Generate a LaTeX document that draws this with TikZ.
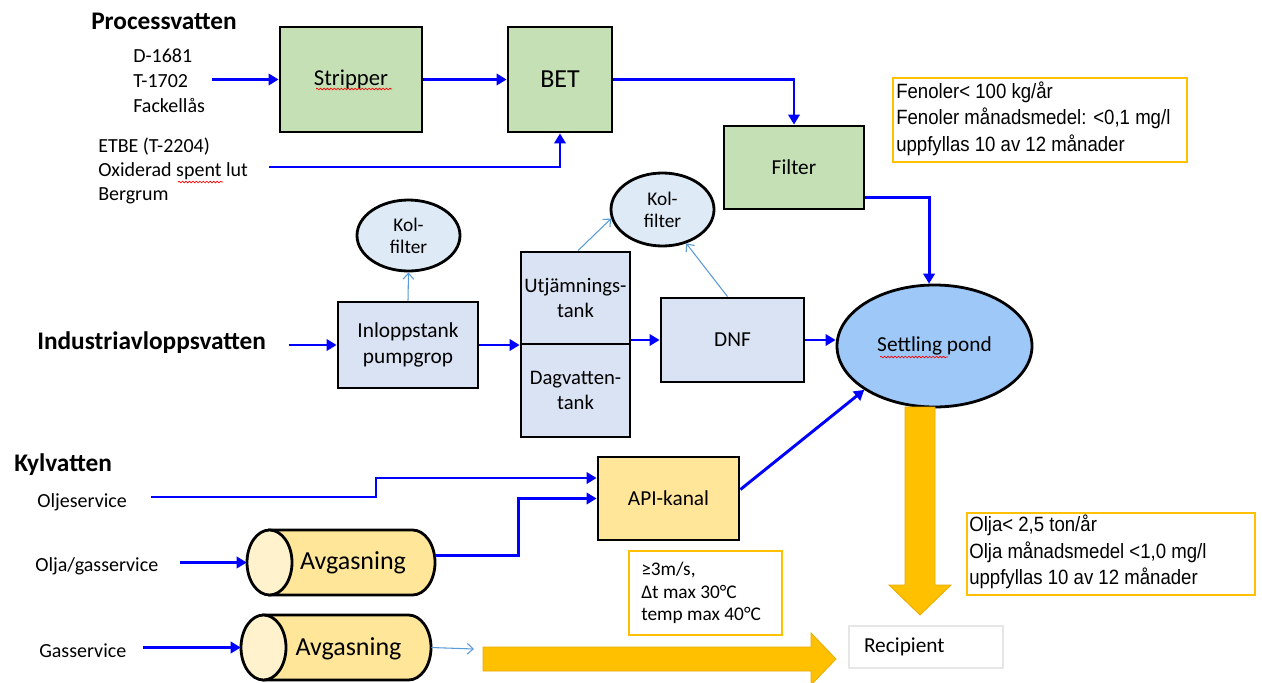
\documentclass[tikz,border=0pt]{standalone}
\usepackage{fontspec}
\setmainfont{Carlito}
\newfontfamily\arialn[FakeStretch=0.9]{Liberation Sans}
\usetikzlibrary{arrows.meta,calc,shapes.geometric,decorations.pathmorphing}

\definecolor{boxgreen}{RGB}{197,224,180}
\definecolor{boxblue}{RGB}{218,227,243}
\definecolor{kolblue}{RGB}{222,235,247}
\definecolor{pondblue}{RGB}{157,200,248}
\definecolor{boxyellow}{RGB}{255,230,153}
\definecolor{capyellow}{RGB}{255,242,204}
\definecolor{gold}{RGB}{255,192,0}
\definecolor{goldedge}{RGB}{232,172,0}
\definecolor{flowblue}{RGB}{0,0,255}
\definecolor{ventblue}{RGB}{91,155,213}
\definecolor{paleframe}{RGB}{231,230,230}

\begin{document}
\begin{tikzpicture}[x=0.75pt,y=-0.75pt,
  wh/.style 2 args={minimum width=#1*0.75pt, minimum height=#2*0.75pt},
  procbox/.style={draw=black, line width=2.1pt, inner sep=0pt, align=center,
    font=\fontsize{16}{20}\selectfont},
  greenbox/.style={procbox, fill=boxgreen},
  bluebox/.style={procbox, fill=boxblue},
  yellowbox/.style={procbox, fill=boxyellow},
  kol/.style={ellipse, draw=black, line width=2.1pt, fill=kolblue, inner sep=0pt,
    align=center, font=\fontsize{14.5}{16.5}\selectfont},
  heading/.style={anchor=west, inner sep=0pt, font=\bfseries\fontsize{19}{22}\selectfont},
  lab/.style={anchor=west, inner sep=0pt, align=left, font=\fontsize{15}{18.75}\selectfont},
  note/.style={draw=gold, line width=1.2pt, fill=white, inner sep=0pt},
  notetext/.style={anchor=west, inner sep=0pt, align=left,
    font=\arialn\fontsize{15.5}{20}\selectfont},
  flow/.style={draw=flowblue, line width=2.2pt, -{Triangle[length=7.5pt,width=8.5pt]}},
  vent/.style={draw=ventblue, line width=0.8pt, -{Straight Barb[length=4.5pt,width=8pt]}},
  drumbody/.style={draw=black, line width=2.1pt, fill=boxyellow},
  drumcap/.style={draw=black, line width=2.1pt, fill=capyellow},
  drumtext/.style={inner sep=0pt, font=\fontsize{19.5}{22}\selectfont},
  bigarrow/.style={fill=gold, draw=goldedge, line width=0.6pt},
  spell/.style={draw=red, line width=0.5pt,
    decorate, decoration={snake, amplitude=0.6pt, segment length=2.6pt}}
]
\useasboundingbox (0,0) rectangle (1262,682);
\fill[white] (0,0) rectangle (1262,682);

% ---------- Processvatten ----------
\node[heading] (hproc) at (91,21) {Processvatten};
\node[lab] (src1) at (133,81) {D-1681\\T-1702\\Fackellås};
\node[lab, font=\fontsize{15}{18}\selectfont] (src2) at (98,171)
  {ETBE (T-2204)\\Oxiderad spent lut\\Bergrum};

\node[greenbox, wh={142}{105}, font=\fontsize{17}{20}\selectfont] (stripper) at (351,79.5) {Stripper};
\node[greenbox, wh={104}{105}, font=\fontsize{19.5}{22}\selectfont] (bet) at (560,79.5) {BET};
\node[greenbox, wh={140}{83}] (filter) at (794,167.5) {Filter};

\node[note, wh={294}{84}] (fenbox) at (1040,120) {};
\node[notetext] (fentext) at (896,118.5)
  {Fenoler< 100 kg/år\\Fenoler månadsmedel: <0,1 mg/l\\uppfyllas 10 av 12 månader};

% ---------- Industriavloppsvatten ----------
\node[heading] (hind) at (37,343) {Industriavloppsvatten};
\node[kol, wh={103}{71}] (kol1) at (408.5,235.5) {Kol-\\filter};
\node[kol, wh={103}{73}] (kol2) at (662.5,209.5) {Kol-\\filter};
\node[bluebox, wh={140}{86}] (inlopp) at (408,345) {Inloppstank\\pumpgrop};
\node[bluebox, wh={109}{92}, font=\fontsize{15.5}{18.75}\selectfont] (utj) at (575.5,298) {Utjämnings-\\tank};
\node[bluebox, wh={109}{93}, font=\fontsize{15.5}{18.75}\selectfont] (dag) at (575.5,390.5) {Dagvatten-\\tank};
\node[bluebox, wh={143}{84}] (dnf) at (732.5,340) {DNF};
\node[ellipse, draw=black, line width=2.1pt, fill=pondblue, inner sep=0pt,
  wh={195}{122}, font=\fontsize{16}{20}\selectfont] (pond) at (934.5,346) {Settling pond};

% ---------- Kylvatten ----------
\node[heading] (hkyl) at (14,465) {Kylvatten};
\node[lab] (oil) at (37,502) {Oljeservice};
\node[lab] (oilgas) at (35,566) {Olja/gasservice};
\node[lab] (gas) at (39,651) {Gasservice};
\node[yellowbox, wh={141}{83}] (api) at (668.5,498.5) {API-kanal};

% degassing drums
\filldraw[drumbody] (269.5,530) -- (412.5,530)
  arc[start angle=-90, end angle=90, x radius=22.5, y radius=32.5] -- (269.5,595) -- cycle;
\filldraw[drumcap] (269.5,562.5) ellipse[x radius=22.5, y radius=32.5];
\node[inner sep=0pt, wh={188}{65}] (cyl1) at (341,562.5) {};
\node[drumtext] (cyl1text) at (353,563) {Avgasning};

\filldraw[drumbody] (263.5,615) -- (408.5,615)
  arc[start angle=-90, end angle=90, x radius=22.5, y radius=32.5] -- (263.5,680) -- cycle;
\filldraw[drumcap] (263.5,647.5) ellipse[x radius=22.5, y radius=32.5];
\node[inner sep=0pt, wh={190}{65}] (cyl2) at (336,647.5) {};
\node[drumtext] (cyl2text) at (348.5,649) {Avgasning};

\node[note, wh={153}{84}] (critbox) at (705.5,593) {};
\node[lab, font=\fontsize{14.5}{17}\selectfont] (crittext) at (641,593)
  {≥3m/s,\\Δt max 30°C\\temp max 40°C};

\node[note, wh={288}{82}] (oilbox) at (1111,554) {};
\node[notetext] (oiltext) at (969,552)
  {Olja< 2,5 ton/år\\Olja månadsmedel <1,0 mg/l\\uppfyllas 10 av 12 månader};

% ---------- discharge to recipient ----------
\path[bigarrow] (905,407) -- (935,407) -- (935,585) -- (951,585) -- (920,615)
  -- (889,585) -- (905,585) -- cycle;
\path[bigarrow] (483,647) -- (811,647) -- (811,633) -- (836,659) -- (811,685)
  -- (811,671) -- (483,671) -- cycle;
\node[draw=paleframe, line width=2.2pt, fill=white, inner xsep=11.25pt, inner ysep=0pt,
  text width=93pt, align=left, minimum height=31.5pt,
  font=\fontsize{16}{20}\selectfont] (recip) at (926,647) {Recipient};

% ---------- connectors ----------
\coordinate (p1) at (212,79.5);
\draw[flow] (p1) -- (stripper.west);
\draw[flow] (stripper.east) -- (bet.west);
\coordinate (p2) at (269,167);
\draw[flow] (p2) -| (bet.south);
\draw[flow] (bet.east) -| (filter.north);
\draw[flow] ($(filter.south east)+(0,-13)$) -| (pond.95);

\coordinate (p3) at (289,345);
\draw[flow] (p3) -- (inlopp.west);
\draw[flow] (inlopp.east) -- (inlopp.east -| utj.west);
\draw[vent] (inlopp.north) -- (kol1.south);
\draw[vent] ($(utj.north)+(2.5,0)$) -- (kol2.190);
\draw[flow] (utj.east |- dnf.west) -- (dnf.west);
\draw[vent] ($(dnf.north)+(-5,0)$) -- (kol2.-55);
\draw[flow] (dnf.east) -- (dnf.east -| pond.west);

\coordinate (p4) at (151,497);
\draw[flow] (p4) -- ++(225,0) |- ($(api.west)+(0,-20.5)$);
\coordinate (p5) at (180,562.5);
\draw[flow] (p5) -- (cyl1.west);
\draw[flow] ($(cyl1.east)+(0,-7)$) -- ++(83,0) |- (api.west);
\draw[flow] ($(api.east)+(0,-9)$) -- (pond.212);
\coordinate (p6) at (143,647.5);
\draw[flow] (p6) -- (cyl2.west);
\coordinate (p7) at (474,649);
\draw[vent] (cyl2.east) -- (p7);

% spell-check marks
\draw[spell] (316,89) -- (392,89);
\draw[spell] (178,182) -- (223,182);
\draw[spell] (880,357) -- (948,357);
\end{tikzpicture}
\end{document}
